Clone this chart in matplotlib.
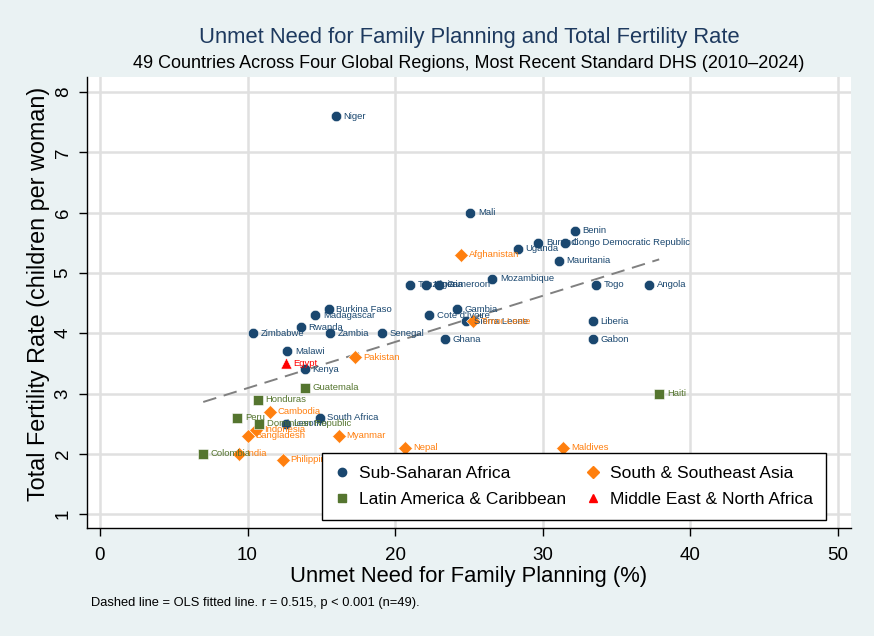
import numpy as np
import matplotlib
matplotlib.use("Agg")
import matplotlib.pyplot as plt
from matplotlib.lines import Line2D

plt.rcParams['font.family'] = ['Liberation Sans', 'DejaVu Sans']

# ---- data ----
ssa_names = ["Niger", "Mali", "Benin", "Burundi", "Congo Democratic Republic", "Uganda",
             "Mauritania", "Mozambique", "Togo", "Angola", "Tanzania", "Nigeria", "Cameroon",
             "Gambia", "Cote d'Ivoire", "Sierra Leone", "Liberia", "Ghana", "Gabon",
             "Burkina Faso", "Madagascar", "Rwanda", "Zimbabwe", "Zambia", "Senegal",
             "Malawi", "Kenya", "South Africa", "Lesotho"]
ssa_unmet = [16.0, 25.1, 32.2, 29.7, 31.5, 28.3, 31.1, 26.6, 33.6, 37.2, 21.0, 22.1, 23.0,
             24.2, 22.3, 24.8, 33.4, 23.4, 33.4, 15.5, 14.6, 13.6, 10.4, 15.6, 19.1,
             12.7, 13.9, 14.9, 12.6]
ssa_tfr = [7.6, 6.0, 5.7, 5.5, 5.5, 5.4, 5.2, 4.9, 4.8, 4.8, 4.8, 4.8, 4.8,
           4.4, 4.3, 4.2, 4.2, 3.9, 3.9, 4.4, 4.3, 4.1, 4.0, 4.0, 4.0,
           3.7, 3.4, 2.6, 2.5]

asia_names = ["Afghanistan", "Timor-Leste", "Pakistan", "Cambodia", "Indonesia",
              "Bangladesh", "Myanmar", "Nepal", "Maldives", "India", "Philippines"]
asia_unmet = [24.5, 25.3, 17.3, 11.5, 10.6, 10.0, 16.2, 20.7, 31.4, 9.4, 12.4]
asia_tfr = [5.3, 4.2, 3.6, 2.7, 2.4, 2.3, 2.3, 2.1, 2.1, 2.0, 1.9]

lac_names = ["Guatemala", "Honduras", "Peru", "Dominican Republic", "Haiti", "Colombia"]
lac_unmet = [13.9, 10.7, 9.3, 10.8, 37.9, 7.0]
lac_tfr = [3.1, 2.9, 2.6, 2.5, 3.0, 2.0]

mena_names = ["Egypt"]
mena_unmet = [12.6]
mena_tfr = [3.5]

region_labels = ["Sub-Saharan Africa", "South & Southeast Asia",
                 "Latin America & Caribbean", "Middle East & North Africa"]
x_ticks = [0, 10, 20, 30, 40, 50]
y_ticks = [1, 2, 3, 4, 5, 6, 7, 8]

# ---- styling ----
bg = "#eaf2f3"
c_ssa, c_asia, c_lac, c_mena = "#1a476f", "#ff7f0e", "#55752f", "#ff0000"
lab_ssa, lab_asia, lab_lac, lab_mena = "#1a476f", "#ff7f0e", "#55752f", "#ff0000"

fig = plt.figure(figsize=(8.74, 6.36), dpi=100, facecolor=bg)
ax = fig.add_axes([0.0995, 0.1698, 0.8742, 0.7092])
ax.set_facecolor("white")

groups = [
    (ssa_names, ssa_unmet, ssa_tfr, c_ssa, lab_ssa, "o", 56),
    (asia_names, asia_unmet, asia_tfr, c_asia, lab_asia, "D", 50),
    (lac_names, lac_unmet, lac_tfr, c_lac, lab_lac, "s", 60),
    (mena_names, mena_unmet, mena_tfr, c_mena, lab_mena, "^", 64),
]
for names, xs, ys, col, lcol, mk, sz in groups:
    ax.scatter(xs, ys, s=sz, marker=mk, color=col, edgecolors="white",
               linewidths=0.4, zorder=3)
    for n, x, y in zip(names, xs, ys):
        ax.annotate(n, (x, y), xytext=(5.5, 0), textcoords="offset points",
                    ha="left", va="center", fontsize=6.8, color=lcol, zorder=4)

# OLS fit
all_x = np.array(ssa_unmet + asia_unmet + lac_unmet + mena_unmet)
all_y = np.array(ssa_tfr + asia_tfr + lac_tfr + mena_tfr)
b, a = np.polyfit(all_x, all_y, 1)
xf = np.array([all_x.min(), all_x.max()])
ax.plot(xf, a + b * xf, color="#808080", lw=1.4, ls=(0, (7, 4)), zorder=2)

ax.set_xlim(-0.88, 50.9)
ax.set_ylim(0.77, 8.25)
ax.set_xticks(x_ticks)
ax.set_yticks(y_ticks)
ax.grid(True, color="#e0e0e0", lw=1.8, zorder=0)
ax.set_axisbelow(True)
for s in ["top", "right"]:
    ax.spines[s].set_visible(False)
for s in ["left", "bottom"]:
    ax.spines[s].set_color("black")
    ax.spines[s].set_linewidth(1.0)
ax.tick_params(axis="both", direction="out", length=6, width=1, colors="black",
               labelsize=13.5)
ax.tick_params(axis="x", pad=8)
ax.tick_params(axis="y", pad=5)
plt.setp(ax.get_yticklabels(), rotation=90, va="center")

ax.set_xlabel("Unmet Need for Family Planning (%)", fontsize=15.8, labelpad=1)
ax.set_ylabel("Total Fertility Rate (children per woman)", fontsize=16.8)
ax.yaxis.set_label_coords(-0.049, 0.519)

cx = (87 + 851) / 2 / 874
fig.text(cx, 1 - 37 / 636, "Unmet Need for Family Planning and Total Fertility Rate",
         ha="center", va="center", fontsize=15.8, color="#1e3a5f")
fig.text(cx, 1 - 64 / 636,
         "49 Countries Across Four Global Regions, Most Recent Standard DHS (2010\u20132024)",
         ha="center", va="center", fontsize=13, color="black")
fig.text(91 / 874, 1 - 603 / 636,
         "Dashed line = OLS fitted line. r = 0.515, p < 0.001 (n=49).",
         ha="left", va="center", fontsize=9.3, color="black")

handles = [
    Line2D([], [], marker="o", ls="", color=c_ssa, markersize=6),
    Line2D([], [], marker="s", ls="", color=c_lac, markersize=6),
    Line2D([], [], marker="D", ls="", color=c_asia, markersize=6),
    Line2D([], [], marker="^", ls="", color=c_mena, markersize=6),
]
labels = [region_labels[0], region_labels[2], region_labels[1], region_labels[3]]
leg = ax.legend(handles, labels, ncol=2, loc="lower left",
                bbox_to_anchor=(0.3076, 0.0177, 0.6597, 0.1375), mode="expand",
                borderaxespad=0.0,
                fontsize=12.5, frameon=True, fancybox=False, framealpha=1,
                edgecolor="black", handletextpad=0.6, columnspacing=1.0,
                borderpad=0.75, labelspacing=0.6, handlelength=0.8)
leg.get_frame().set_linewidth(1.0)
leg.set_zorder(5)

fig.savefig("out.png", dpi=100, facecolor=bg)
